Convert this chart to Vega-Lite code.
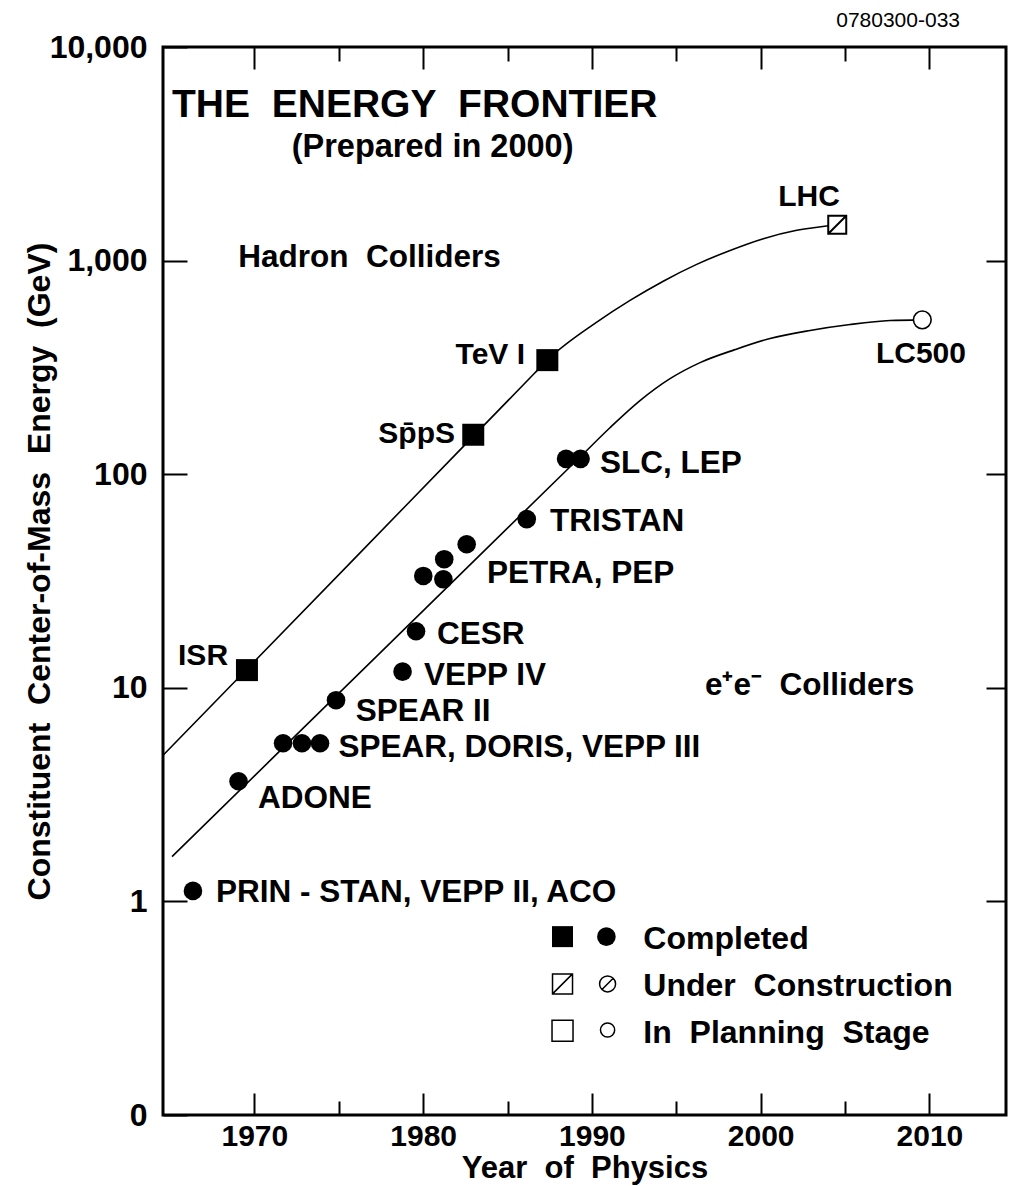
{
  "$schema": "https://vega.github.io/schema/vega-lite/v6.json",
  "width": 843,
  "height": 1068,
  "autosize": "none",
  "padding": {"left": 163, "top": 47, "right": 11, "bottom": 71},
  "background": "white",
  "title": {"text": "0780300-033", "anchor": "end", "frame": "group", "orient": "top", "fontSize": 21, "fontWeight": "normal", "font": "Liberation Sans", "color": "black", "baseline": "alphabetic", "offset": -17, "dx": -46},
  "config": {
    "view": {"stroke": "black", "strokeWidth": 3},
    "axis": {"domain": false, "grid": false, "tickColor": "black", "tickWidth": 2, "labelColor": "black", "titleColor": "black", "labelFont": "Liberation Sans", "titleFont": "Liberation Sans", "labelFontWeight": "bold", "titleFontWeight": "bold", "labelFontSize": 30, "titleFontSize": 32, "labelFlush": false, "labelOverlap": false},
    "text": {"font": "Liberation Sans", "fontWeight": "bold", "fontSize": 30, "color": "black"}
  },
  "datasets": {
    "colliders": [
      {"name": "ISR", "family": "hadron", "status": "completed", "year": 1969.56, "energy": 12.1},
      {"name": "SppS", "family": "hadron", "status": "completed", "year": 1982.97, "energy": 153},
      {"name": "TeV I", "family": "hadron", "status": "completed", "year": 1987.36, "energy": 342},
      {"name": "LHC", "family": "hadron", "status": "construction", "year": 2004.54, "energy": 1473},
      {"name": "PRIN-STAN / VEPP II / ACO", "family": "ee", "status": "completed", "year": 1966.36, "energy": 1.12},
      {"name": "ADONE", "family": "ee", "status": "completed", "year": 1969.06, "energy": 3.65},
      {"name": "SPEAR", "family": "ee", "status": "completed", "year": 1971.7, "energy": 5.5},
      {"name": "DORIS", "family": "ee", "status": "completed", "year": 1972.82, "energy": 5.5},
      {"name": "VEPP III", "family": "ee", "status": "completed", "year": 1973.89, "energy": 5.5},
      {"name": "SPEAR II", "family": "ee", "status": "completed", "year": 1974.84, "energy": 8.75},
      {"name": "VEPP IV", "family": "ee", "status": "completed", "year": 1978.78, "energy": 11.9},
      {"name": "CESR", "family": "ee", "status": "completed", "year": 1979.58, "energy": 18.4},
      {"name": "PETRA", "family": "ee", "status": "completed", "year": 1980.01, "energy": 33.4},
      {"name": "PEP", "family": "ee", "status": "completed", "year": 1981.2, "energy": 32.2},
      {"name": "PETRA upgrade", "family": "ee", "status": "completed", "year": 1981.25, "energy": 40.0},
      {"name": "PETRA upgrade 2", "family": "ee", "status": "completed", "year": 1982.58, "energy": 47.0},
      {"name": "TRISTAN", "family": "ee", "status": "completed", "year": 1986.14, "energy": 61.6},
      {"name": "SLC", "family": "ee", "status": "completed", "year": 1988.47, "energy": 118},
      {"name": "LEP", "family": "ee", "status": "completed", "year": 1989.33, "energy": 118},
      {"name": "LC500", "family": "ee", "status": "planning", "year": 2009.58, "energy": 528}
    ],
    "trend_lines": [
      {"family": "hadron", "year": 1964.6, "energy": 4.84},
      {"family": "hadron", "year": 1970.0, "energy": 13.28},
      {"family": "hadron", "year": 1976.0, "energy": 40.8},
      {"family": "hadron", "year": 1982.0, "energy": 125.5},
      {"family": "hadron", "year": 1986.6, "energy": 296.7},
      {"family": "hadron", "year": 1987.36, "energy": 342},
      {"family": "hadron", "year": 1990.29, "energy": 515},
      {"family": "hadron", "year": 1992.26, "energy": 651},
      {"family": "hadron", "year": 1994.23, "energy": 801},
      {"family": "hadron", "year": 1996.21, "energy": 960},
      {"family": "hadron", "year": 1998.19, "energy": 1116},
      {"family": "hadron", "year": 2000.16, "energy": 1267},
      {"family": "hadron", "year": 2002.14, "energy": 1386},
      {"family": "hadron", "year": 2004.54, "energy": 1473},
      {"family": "ee", "year": 1965.12, "energy": 1.62},
      {"family": "ee", "year": 1971.0, "energy": 4.62},
      {"family": "ee", "year": 1977.21, "energy": 13.96},
      {"family": "ee", "year": 1983.0, "energy": 39.2},
      {"family": "ee", "year": 1988.5, "energy": 104.4},
      {"family": "ee", "year": 1989.33, "energy": 121},
      {"family": "ee", "year": 1991.07, "energy": 165},
      {"family": "ee", "year": 1992.85, "energy": 221},
      {"family": "ee", "year": 1994.63, "energy": 280},
      {"family": "ee", "year": 1996.41, "energy": 333},
      {"family": "ee", "year": 1998.48, "energy": 383},
      {"family": "ee", "year": 2000.56, "energy": 432},
      {"family": "ee", "year": 2002.93, "energy": 471},
      {"family": "ee", "year": 2005.3, "energy": 502},
      {"family": "ee", "year": 2007.67, "energy": 524},
      {"family": "ee", "year": 2009.58, "energy": 528}
    ],
    "legend_keys": [
      {"family": "hadron", "status": "completed", "year": 1988.26, "energy": 0.684},
      {"family": "ee", "status": "completed", "year": 1990.86, "energy": 0.684},
      {"family": "hadron", "status": "construction", "year": 1988.26, "energy": 0.411},
      {"family": "ee", "status": "construction", "year": 1990.93, "energy": 0.411},
      {"family": "hadron", "status": "planning", "year": 1988.26, "energy": 0.248},
      {"family": "ee", "status": "planning", "year": 1990.93, "energy": 0.25}
    ],
    "legend_texts": [
      {"text": "Completed", "year": 1993.05, "energy": 0.67},
      {"text": "Under\u00a0 Construction", "year": 1993.05, "energy": 0.402},
      {"text": "In\u00a0 Planning\u00a0 Stage", "year": 1993.05, "energy": 0.243}
    ],
    "labels_after": [
      {"text": "SLC, LEP", "year": 1990.48, "energy": 111.6},
      {"text": "TRISTAN", "year": 1987.52, "energy": 59.8},
      {"text": "PETRA, PEP", "year": 1983.79, "energy": 34.0},
      {"text": "CESR", "year": 1980.82, "energy": 17.7},
      {"text": "VEPP IV", "year": 1980.05, "energy": 11.3},
      {"text": "SPEAR II", "year": 1976.0, "energy": 7.69},
      {"text": "SPEAR, DORIS, VEPP III", "year": 1974.99, "energy": 5.21},
      {"text": "ADONE", "year": 1970.21, "energy": 3.0},
      {"text": "PRIN - STAN, VEPP II, ACO", "year": 1967.73, "energy": 1.09},
      {"text": "Hadron\u00a0 Colliders", "year": 1969.05, "energy": 1024},
      {"text": "e\u207ae\u207b\u00a0 Colliders", "year": 1996.7, "energy": 10.2}
    ],
    "labels_before": [
      {"text": "ISR", "year": 1968.44, "energy": 14.1},
      {"text": "Sp\u0304pS", "year": 1981.89, "energy": 155},
      {"text": "TeV I", "year": 1986.04, "energy": 363}
    ],
    "labels_centered": [
      {"text": "LHC", "year": 2002.87, "energy": 1980},
      {"text": "LC500", "year": 2009.5, "energy": 365}
    ],
    "headings": [
      {"text": "THE\u00a0 ENERGY\u00a0 FRONTIER", "year": 1965.12, "energy": 5352}
    ],
    "subheadings": [
      {"text": "(Prepared in 2000)", "year": 1980.56, "energy": 3404}
    ]
  },
  "layer": [
    {
      "encoding": {
        "x": {
          "field": "year", "type": "quantitative",
          "scale": {"domain": [1964.585, 2014.54], "nice": false, "zero": false},
          "axis": {
            "orient": "bottom",
            "values": [1970, 1975, 1980, 1985, 1990, 1995, 2000, 2005, 2010],
            "tickSize": {"condition": {"test": "datum.value % 10 === 0", "value": -22}, "value": -14},
            "labelExpr": "datum.value % 10 === 0 ? '' + datum.value : ''",
            "labelPadding": 28,
            "title": "Year\u00a0 of\u00a0 Physics",
            "titleFontSize": 31,
            "titleY": 38
          }
        },
        "y": {
          "field": "energy", "type": "quantitative",
          "scale": {"type": "log", "domain": [0.1, 10000], "nice": false},
          "axis": {
            "orient": "left",
            "values": [0.1, 1, 10, 100, 1000, 10000],
            "tickSize": -24,
            "labelExpr": "datum.value < 0.5 ? '0' : format(datum.value, ',')",
            "labelPadding": 40,
            "labelFontSize": 32,
            "title": "Constituent\u00a0 Center-of-Mass\u00a0 Energy\u00a0 (GeV)",
            "titleX": -124,
            "titleY": 524,
            "titleBaseline": "middle"
          }
        }
      },
      "layer": [
        {
          "data": {"name": "trend_lines"},
          "mark": {"type": "line", "interpolate": "monotone", "color": "black", "strokeWidth": 1.6},
          "encoding": {"detail": {"field": "family", "type": "nominal"}, "order": {"field": "year", "type": "quantitative"}}
        },
        {
          "data": {"name": "colliders"},
          "transform": [{"filter": "datum.family === 'hadron' && datum.status === 'completed'"}],
          "mark": {"type": "point", "shape": "square", "filled": true, "fill": "black", "strokeWidth": 0, "size": 484, "opacity": 1}
        },
        {
          "data": {"name": "colliders"},
          "transform": [{"filter": "datum.family === 'ee' && datum.status === 'completed'"}],
          "mark": {"type": "point", "shape": "circle", "filled": true, "fill": "black", "strokeWidth": 0, "size": 346, "opacity": 1}
        },
        {
          "data": {"name": "colliders"},
          "transform": [{"filter": "datum.family === 'hadron' && datum.status === 'construction'"}],
          "mark": {"type": "point", "shape": "M-1,-1H1V1H-1Z M-1,1L1,-1", "filled": true, "fill": "white", "stroke": "black", "strokeWidth": 2, "size": 324, "opacity": 1}
        },
        {
          "data": {"name": "colliders"},
          "transform": [{"filter": "datum.family === 'ee' && datum.status === 'planning'"}],
          "mark": {"type": "point", "shape": "circle", "filled": true, "fill": "white", "stroke": "black", "strokeWidth": 1.6, "size": 314, "opacity": 1}
        },
        {
          "data": {"name": "legend_keys"},
          "transform": [{"filter": "datum.family === 'hadron' && datum.status === 'completed'"}],
          "mark": {"type": "point", "shape": "square", "filled": true, "fill": "black", "strokeWidth": 0, "size": 441, "opacity": 1}
        },
        {
          "data": {"name": "legend_keys"},
          "transform": [{"filter": "datum.family === 'ee' && datum.status === 'completed'"}],
          "mark": {"type": "point", "shape": "circle", "filled": true, "fill": "black", "strokeWidth": 0, "size": 346, "opacity": 1}
        },
        {
          "data": {"name": "legend_keys"},
          "transform": [{"filter": "datum.family === 'hadron' && datum.status === 'construction'"}],
          "mark": {"type": "point", "shape": "M-1,-1H1V1H-1Z M-1,1L1,-1", "filled": true, "fill": "white", "stroke": "black", "strokeWidth": 1.5, "size": 400, "opacity": 1}
        },
        {
          "data": {"name": "legend_keys"},
          "transform": [{"filter": "datum.family === 'ee' && datum.status === 'construction'"}],
          "mark": {"type": "point", "shape": "M1,0A1,1,0,1,1,-1,0A1,1,0,1,1,1,0Z M-0.7,0.7L0.7,-0.7", "filled": true, "fill": "white", "stroke": "black", "strokeWidth": 1.5, "size": 256, "opacity": 1}
        },
        {
          "data": {"name": "legend_keys"},
          "transform": [{"filter": "datum.family === 'hadron' && datum.status === 'planning'"}],
          "mark": {"type": "point", "shape": "square", "filled": true, "fill": "white", "stroke": "black", "strokeWidth": 1.5, "size": 441, "opacity": 1}
        },
        {
          "data": {"name": "legend_keys"},
          "transform": [{"filter": "datum.family === 'ee' && datum.status === 'planning'"}],
          "mark": {"type": "point", "shape": "circle", "filled": true, "fill": "white", "stroke": "black", "strokeWidth": 1.5, "size": 201, "opacity": 1}
        },
        {
          "data": {"name": "legend_texts"},
          "mark": {"type": "text", "align": "left", "baseline": "middle", "fontSize": 32},
          "encoding": {"text": {"field": "text", "type": "nominal"}}
        },
        {
          "data": {"name": "labels_after"},
          "mark": {"type": "text", "align": "left", "baseline": "middle", "fontSize": 31.5},
          "encoding": {"text": {"field": "text", "type": "nominal"}}
        },
        {
          "data": {"name": "labels_before"},
          "mark": {"type": "text", "align": "right", "baseline": "middle"},
          "encoding": {"text": {"field": "text", "type": "nominal"}}
        },
        {
          "data": {"name": "labels_centered"},
          "mark": {"type": "text", "align": "center", "baseline": "middle"},
          "encoding": {"text": {"field": "text", "type": "nominal"}}
        }
      ]
    },
    {
      "encoding": {
        "x": {
          "field": "year", "type": "quantitative",
          "scale": {"domain": [1964.585, 2014.54], "nice": false, "zero": false},
          "axis": {
            "orient": "top",
            "values": [1970, 1975, 1980, 1985, 1990, 1995, 2000, 2005, 2010],
            "tickSize": {"condition": {"test": "datum.value % 10 === 0", "value": -22}, "value": -14},
            "labels": false,
            "title": null
          }
        },
        "y": {
          "field": "energy", "type": "quantitative",
          "scale": {"type": "log", "domain": [0.1, 10000], "nice": false},
          "axis": {
            "orient": "right",
            "values": [1, 10, 100, 1000],
            "tickSize": -20,
            "labels": false,
            "title": null
          }
        }
      },
      "layer": [
        {
          "data": {"name": "headings"},
          "mark": {"type": "text", "align": "left", "baseline": "middle", "fontSize": 39},
          "encoding": {"text": {"field": "text", "type": "nominal"}}
        },
        {
          "data": {"name": "subheadings"},
          "mark": {"type": "text", "align": "center", "baseline": "middle", "fontSize": 32.5},
          "encoding": {"text": {"field": "text", "type": "nominal"}}
        }
      ]
    }
  ],
  "resolve": {"axis": {"x": "independent", "y": "independent"}}
}
